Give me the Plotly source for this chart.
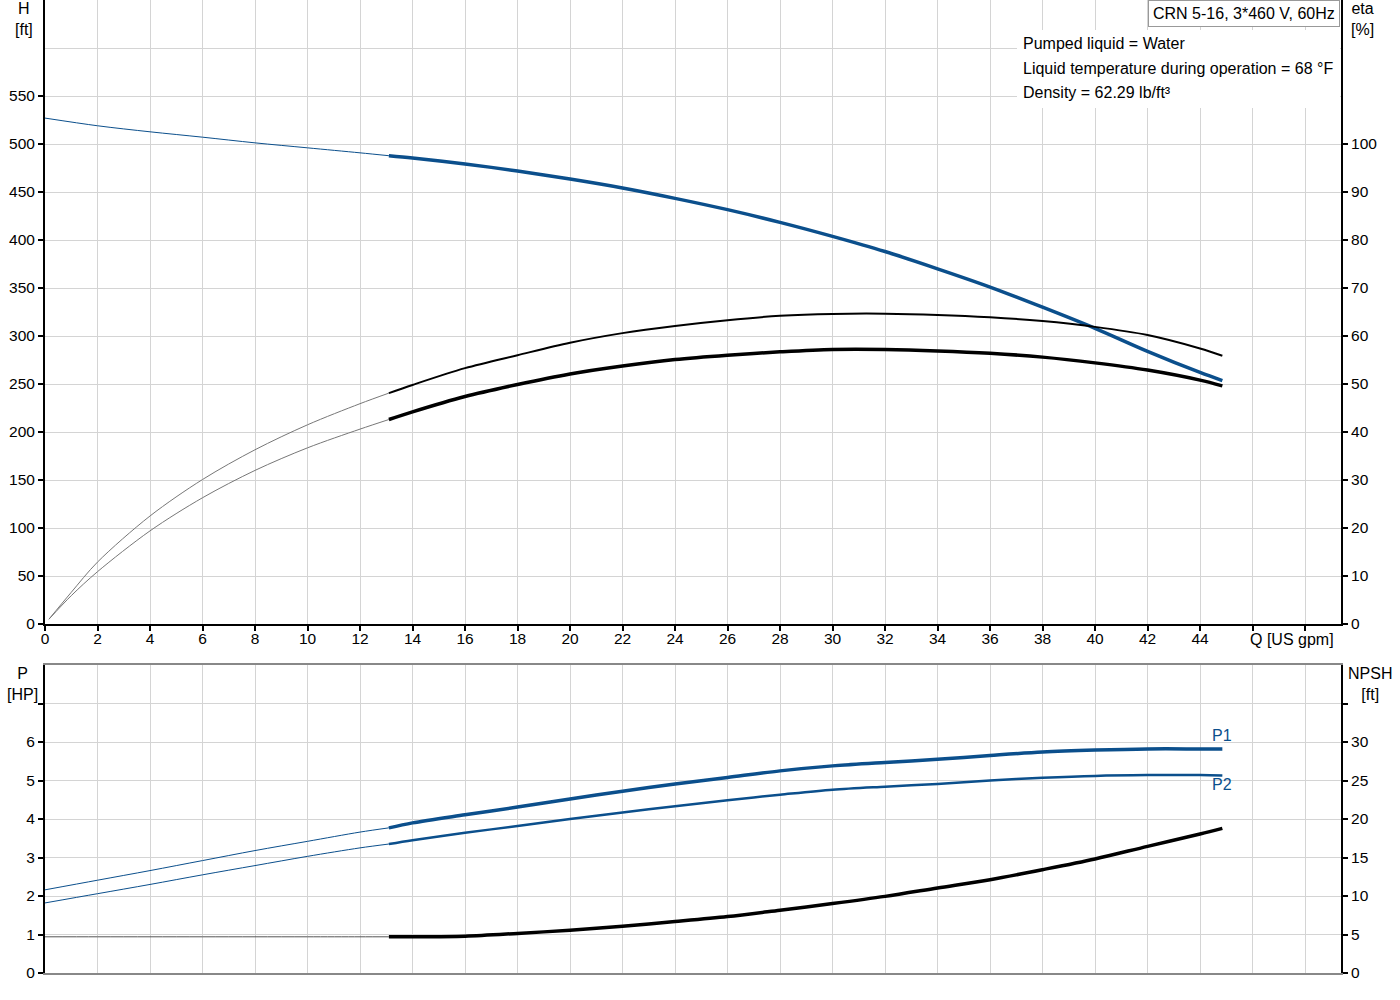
import plotly.graph_objects as go

# Flow points (US gpm): thin extension part and the normal operating range
q_thin = [0, 2, 4, 6, 8, 10, 12, 13.1]
q_eta_thin = [0.15, 1, 2, 4, 6, 8, 10, 12, 13.1]
q_main = [13.1, 14, 16, 18, 20, 22, 24, 26, 28, 30, 32, 34, 36, 38, 40, 42, 44, 44.85]

# Head H [ft]
h_thin = [527, 519, 512.7, 507.1, 501.2, 496, 490.8, 487.8]
h_main = [487.8, 485.4, 479.2, 471.9, 463.5, 454.2, 443.4, 431.6, 418.4, 403.8,
          388, 370, 351, 330, 308, 284, 262, 253.5]

# Efficiency eta [%] (upper thin curve and lower thick curve)
eta_up_thin = [1, 6.6, 12.9, 22.5, 30.1, 36.3, 41.5, 45.9, 48.1]
eta_up_main = [48.1, 49.8, 53.3, 56.0, 58.6, 60.6, 62.1, 63.3, 64.2, 64.6,
               64.65, 64.4, 63.9, 63.1, 61.9, 60.2, 57.4, 55.9]
eta_lo_thin = [1, 5.9, 10.9, 19.4, 26.3, 32.0, 36.7, 40.6, 42.6]
eta_lo_main = [42.6, 44.2, 47.4, 49.9, 52.1, 53.75, 55.1, 56.0, 56.7, 57.2,
               57.2, 56.9, 56.4, 55.6, 54.4, 52.9, 50.8, 49.6]

# Power P [HP]
p1_thin = [2.16, 2.41, 2.66, 2.92, 3.18, 3.42, 3.66, 3.77]
p1_main = [3.77, 3.90, 4.11, 4.31, 4.52, 4.72, 4.91, 5.08, 5.25, 5.38,
           5.47, 5.55, 5.65, 5.74, 5.79, 5.82, 5.82, 5.82]
p2_thin = [1.82, 2.06, 2.30, 2.55, 2.79, 3.03, 3.25, 3.35]
p2_main = [3.35, 3.45, 3.64, 3.82, 4.0, 4.17, 4.33, 4.49, 4.63, 4.76,
           4.84, 4.91, 5.0, 5.07, 5.12, 5.14, 5.14, 5.13]

# NPSH [ft]
npsh_thin = [4.7, 4.7, 4.7, 4.7, 4.7, 4.7, 4.7, 4.7]
npsh_main = [4.7, 4.7, 4.78, 5.14, 5.56, 6.08, 6.68, 7.33, 8.16, 9.02,
             9.95, 11.04, 12.12, 13.42, 14.81, 16.45, 18.05, 18.79]

x_ticks = list(range(0, 50, 2))
x_ticktext = [str(v) if v <= 44 else "" for v in x_ticks]

BLUE = "#0b4f8c"
GRID = "#d4d4d4"
FONT = "Liberation Sans, Arial, sans-serif"

W, H = 1400, 1000
ML, MR, MT, MB = 45, 59, 0, 27
PW = W - ML - MR
PH = H - MT - MB


def px_x(px):
    return (px - ML) / PW


def px_y(py):
    return (H - MB - py) / PH


fig = go.Figure()


def add_line(x, y, color, width, xa="x", ya="y"):
    fig.add_trace(go.Scatter(x=x, y=y, mode="lines", xaxis=xa, yaxis=ya,
                             line=dict(color=color, width=width, shape="spline", smoothing=0.9),
                             showlegend=False, hoverinfo="skip"))


# top chart: head and efficiency
add_line(q_thin, h_thin, BLUE, 1)
add_line(q_main, h_main, BLUE, 3.5)
add_line(q_eta_thin, eta_up_thin, "#777777", 1, ya="y2")
add_line(q_main, eta_up_main, "black", 2, ya="y2")
add_line(q_eta_thin, eta_lo_thin, "#777777", 1, ya="y2")
add_line(q_main, eta_lo_main, "black", 3.5, ya="y2")

# bottom chart: power and NPSH
add_line(q_thin, p1_thin, BLUE, 1, xa="x2", ya="y3")
add_line(q_main, p1_main, BLUE, 3.5, xa="x2", ya="y3")
add_line(q_thin, p2_thin, BLUE, 1, xa="x2", ya="y3")
add_line(q_main, p2_main, BLUE, 2.5, xa="x2", ya="y3")
add_line(q_thin, npsh_thin, "#555555", 1, xa="x2", ya="y4")
add_line(q_main, npsh_main, "black", 3.5, xa="x2", ya="y4")

top_dom = [px_y(624), 1]
bot_dom = [0, px_y(665)]

tick_common = dict(ticks="outside", ticklen=5, tickwidth=1.5, tickcolor="black",
                   tickfont=dict(family=FONT, size=15.5, color="black"), zeroline=False)

fig.update_layout(
    width=W, height=H,
    margin=dict(l=ML, r=MR, t=MT, b=MB),
    plot_bgcolor="white", paper_bgcolor="white",
    font=dict(family=FONT, size=16, color="black"),
    xaxis=dict(domain=[0, 1], range=[0, 49.37], anchor="y",
               tickmode="array", tickvals=x_ticks, ticktext=x_ticktext,
               ticklabelstandoff=-6,
               showgrid=True, gridcolor=GRID, gridwidth=1,
               showline=True, linecolor="black", linewidth=2, **tick_common),
    xaxis2=dict(domain=[0, 1], range=[0, 49.37], anchor="y3", matches="x",
                tickmode="array", tickvals=x_ticks, showticklabels=False, ticks="",
                showgrid=True, gridcolor=GRID, gridwidth=1, zeroline=False,
                showline=True, linecolor="#888888", linewidth=1.5, mirror=True),
    yaxis=dict(domain=top_dom, range=[0, 650], anchor="x",
               tickmode="array", tickvals=list(range(0, 600, 50)),
               showgrid=True, gridcolor=GRID, gridwidth=1,
               minor=dict(dtick=50, tick0=0, showgrid=True, gridcolor=GRID, ticks=""),
               showline=True, linecolor="black", linewidth=2, **tick_common),
    yaxis2=dict(range=[0, 130], overlaying="y", side="right", anchor="x",
                tickmode="array", tickvals=list(range(0, 110, 10)), showgrid=False,
                showline=True, linecolor="black", linewidth=2, **tick_common),
    yaxis3=dict(domain=bot_dom, range=[0, 8], anchor="x2",
                tickmode="array", tickvals=list(range(0, 8)),
                ticktext=[str(v) for v in range(0, 7)] + [""],
                showgrid=True, gridcolor=GRID, gridwidth=1,
                showline=True, linecolor="black", linewidth=2, **tick_common),
    yaxis4=dict(range=[0, 40], overlaying="y3", side="right", anchor="x2",
                tickmode="array", tickvals=list(range(0, 40, 5)),
                ticktext=[str(v) for v in range(0, 35, 5)] + [""], showgrid=False,
                showline=True, linecolor="black", linewidth=2, **tick_common),
)

# white box behind the liquid info text
fig.add_shape(type="rect", xref="paper", yref="paper",
              x0=px_x(1017), x1=px_x(1340), y0=px_y(108), y1=px_y(30),
              fillcolor="white", line=dict(width=0), layer="above")

ann = []


def label(text, px, py, xanchor="center", yanchor="top", color="black", **kw):
    ann.append(dict(text=text, xref="paper", yref="paper", x=px_x(px), y=px_y(py),
                    xanchor=xanchor, yanchor=yanchor, showarrow=False,
                    font=dict(family=FONT, size=16, color=color), **kw))


label("H<br>[ft]", 24, -2)
label("eta<br>[%]", 1362, -2)
label("P<br>[HP]", 22, 663)
label("NPSH<br>[ft]", 1370, 663)
label("Q [US gpm]", 1292, 639, yanchor="middle")
label("P1", 1222, 735, yanchor="middle", color=BLUE)
label("P2", 1222, 784, yanchor="middle", color=BLUE)
label("CRN 5-16, 3*460 V, 60Hz", 1340, 0, xanchor="right", yanchor="top",
      bgcolor="white", bordercolor="#999999", borderwidth=1, borderpad=4)
label("Pumped liquid = Water", 1021, 44, xanchor="left", yanchor="middle")
label("Liquid temperature during operation = 68 °F", 1021, 68, xanchor="left", yanchor="middle")
label("Density = 62.29 lb/ft³", 1021, 92, xanchor="left", yanchor="middle")

fig.update_layout(annotations=ann)

# page body margin would shift the chart; drop it
fig.write_html("out.html", config={"displayModeBar": False},
               post_script="document.body.style.margin='0px';")
